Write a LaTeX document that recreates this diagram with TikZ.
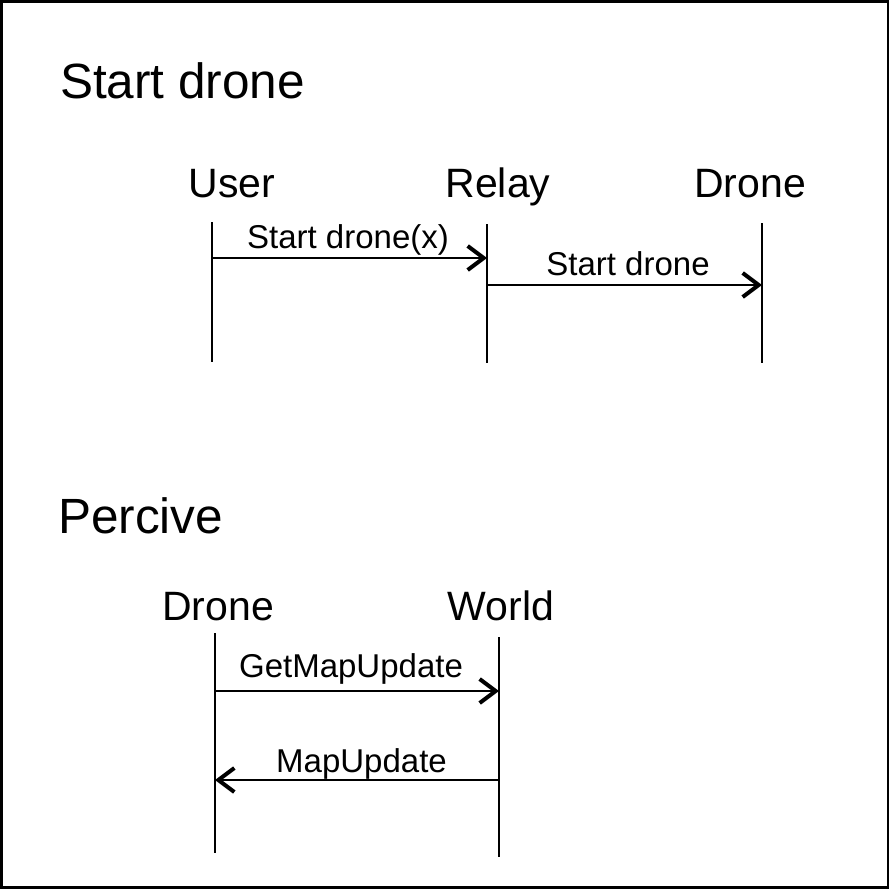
\documentclass[tikz,border=0pt]{standalone}
\usepackage{fontspec}
\setmainfont{Liberation Sans}
\usetikzlibrary{arrows.meta}
\begin{document}
\begin{tikzpicture}[x=1pt,y=-1pt,
  title/.style={anchor=base west,inner sep=0pt,font=\fontsize{49.5}{55}\selectfont},
  actor/.style={anchor=base,inner sep=0pt,font=\fontsize{41}{46}\selectfont},
  msglabel/.style={anchor=base,inner sep=0pt,font=\fontsize{33}{38}\selectfont},
  lifeline/.style={line width=2.3pt},
  msg/.style={line width=2.3pt,-{Straight Barb[length=16pt,width=24pt,line width=4pt]}},
  frame/.style={line width=2.5pt}]
\useasboundingbox (0,0) rectangle (890,889);
\draw[frame] (1.5,1.5) rectangle (888,887.5);

% Section 1
\node[title] (t1) at (60,98) {Start drone};
\node[actor] (user) at (232,197) {User};
\node[actor] (relay) at (498,197) {Relay};
\node[actor] (drone1) at (750,197) {Drone};
\coordinate (uT) at (212,222); \coordinate (uB) at (212,362);
\coordinate (rT) at (487,224); \coordinate (rB) at (487,363);
\coordinate (dT) at (762,223); \coordinate (dB) at (762,363);
\draw[lifeline] (uT) -- (uB);
\draw[lifeline] (rT) -- (rB);
\draw[lifeline] (dT) -- (dB);
\coordinate (m1s) at (212,258); \coordinate (m1e) at (487,258);
\coordinate (m2s) at (487,285); \coordinate (m2e) at (762,285);
\draw[msg] (m1s) -- (m1e);
\draw[msg] (m2s) -- (m2e);
\node[msglabel] (l1) at (348,248) {Start drone(x)};
\node[msglabel] (l2) at (628,275) {Start drone};

% Section 2
\node[title] (t2) at (58,533) {Percive};
\node[actor] (drone2) at (218,620) {Drone};
\node[actor] (world) at (501,620) {World};
\coordinate (d2T) at (215,633); \coordinate (d2B) at (215,853);
\coordinate (wT) at (499,637); \coordinate (wB) at (499,857);
\draw[lifeline] (d2T) -- (d2B);
\draw[lifeline] (wT) -- (wB);
\coordinate (m3s) at (215,691); \coordinate (m3e) at (499,691);
\coordinate (m4s) at (499,780); \coordinate (m4e) at (215,780);
\draw[msg] (m3s) -- (m3e);
\draw[msg] (m4s) -- (m4e);
\node[msglabel] (l3) at (351,677) {GetMapUpdate};
\node[msglabel] (l4) at (361.5,772) {MapUpdate};
\end{tikzpicture}
\end{document}
